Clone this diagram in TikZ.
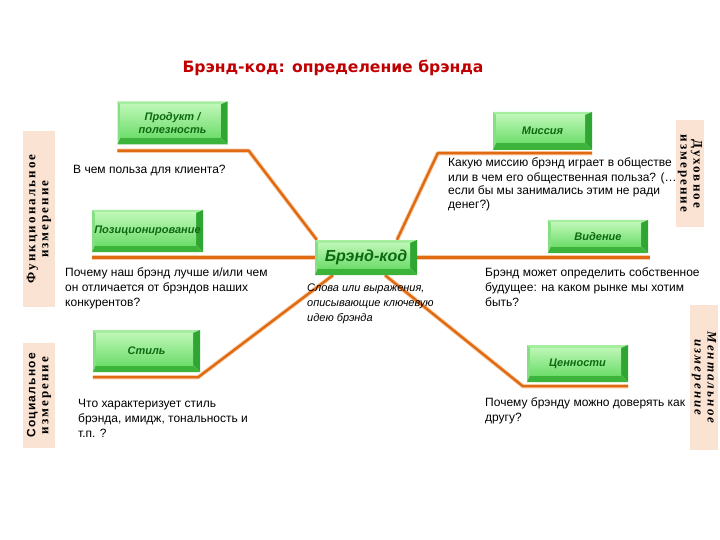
\documentclass[tikz,border=0pt]{standalone}
\usepackage{fontspec}
\setmainfont{Liberation Sans}
\newfontfamily\titlefont{DejaVu Sans}
\newfontfamily\dimfont[LetterSpace=16]{Liberation Serif}
\newfontfamily\dimsans[LetterSpace=10]{Liberation Sans}
\usetikzlibrary{calc}
\pgfdeclarelayer{backdrop}
\pgfdeclarelayer{background}
\pgfsetlayers{backdrop,background,main}
\definecolor{titlered}{HTML}{C00000}
\definecolor{boxtext}{HTML}{0E6A12}
\definecolor{gface1}{HTML}{BDF7B6}
\definecolor{gface2}{HTML}{6FDD6C}
\definecolor{gtop}{HTML}{A6EE9F}
\definecolor{gleft}{HTML}{86E083}
\definecolor{gright}{HTML}{2FA632}
\definecolor{gbot}{HTML}{3CB43C}
\definecolor{oline}{HTML}{E06A12}
\definecolor{ohalo}{HTML}{F8CBA4}
\definecolor{dimfill}{HTML}{FBE3D3}
\tikzset{
  gbox/.style={inner sep=0pt, align=center, text=boxtext,
    font=\bfseries\itshape\fontsize{11}{12.5}\selectfont,
    path picture={
      \fill[gtop] (path picture bounding box.north west) -- (path picture bounding box.north east)
        -- ([shift={(-7pt,-3pt)}]path picture bounding box.north east)
        -- ([shift={(3pt,-3pt)}]path picture bounding box.north west) -- cycle;
      \fill[gleft] (path picture bounding box.north west) -- ([shift={(3pt,-3pt)}]path picture bounding box.north west)
        -- ([shift={(3pt,7pt)}]path picture bounding box.south west) -- (path picture bounding box.south west) -- cycle;
      \fill[gright] (path picture bounding box.north east) -- (path picture bounding box.south east)
        -- ([shift={(-7pt,7pt)}]path picture bounding box.south east)
        -- ([shift={(-7pt,-3pt)}]path picture bounding box.north east) -- cycle;
      \fill[gbot] (path picture bounding box.south west) -- (path picture bounding box.south east)
        -- ([shift={(-7pt,7pt)}]path picture bounding box.south east)
        -- ([shift={(3pt,7pt)}]path picture bounding box.south west) -- cycle;
      \shade[top color=gface1, bottom color=gface2]
        ([shift={(3pt,-3pt)}]path picture bounding box.north west)
        rectangle ([shift={(-7pt,7pt)}]path picture bounding box.south east);
    }},
  txt/.style={anchor=base west, inner sep=0pt, align=left, text=black,
    font=\fontsize{12}{15}\selectfont},
  dimbox/.style={fill=dimfill, inner sep=0pt, align=center, text=black,
    font=\dimfont\bfseries\fontsize{13}{13}\selectfont},
  conn/.style={line width=4.2pt, ohalo, line join=round},
  connc/.style={line width=2.4pt, oline, line join=round}
}
\begin{document}
\begin{tikzpicture}[x=1pt,y=-1pt]
\begin{pgfonlayer}{backdrop}
\fill[white] (0,0) rectangle (720,540);
\end{pgfonlayer}
\useasboundingbox (0,0) rectangle (720,540);

% title
\node[anchor=base, inner sep=0pt, text=titlered, font=\titlefont\bfseries\fontsize{15.6}{18}\selectfont]
  (title) at (333,73) {Брэнд-код: определение брэнда};

% dimension labels
\node[dimbox, rotate=90, minimum width=176pt, minimum height=32pt] (func) at (39,219)
  {Функциональное\\измерение};
\node[dimbox, rotate=90, minimum width=105pt, minimum height=32pt] (soc) at (39,395.5)
  {{\dimsans\fontsize{12}{13}\selectfont Социальное}\\измерение};
\node[dimbox, rotate=-90, minimum width=107pt, minimum height=28pt] (spir) at (690,173.5)
  {Духовное\\измерение};
\node[dimbox, rotate=-90, minimum width=145pt, minimum height=28pt, font=\dimfont\bfseries\itshape\fontsize{13}{13}\selectfont] (ment) at (704,377.5)
  {Ментальное\\измерение};

% green boxes
\node[gbox, minimum width=110pt, minimum height=43pt] (prod) at (172.5,123) {Продукт /\\полезность};
\node[gbox, minimum width=111pt, minimum height=42pt] (pos) at (147.5,231) {Позиционирование};
\node[gbox, minimum width=99pt, minimum height=38pt] (mis) at (542.5,131) {Миссия};
\node[gbox, minimum width=100pt, minimum height=33pt] (vis) at (598,236.5) {Видение};
\node[gbox, minimum width=107pt, minimum height=42pt] (sty) at (146.5,351) {Стиль};
\node[gbox, minimum width=101pt, minimum height=37pt] (val) at (577.5,363.5) {Ценности};
\node[gbox, minimum width=102pt, minimum height=35pt, font=\bfseries\itshape\fontsize{16}{18}\selectfont] (core) at (366,257.5) {Брэнд-код};

% connectors
\begin{pgfonlayer}{background}
\foreach \s in {conn,connc}{
  \draw[\s] ([yshift=-6pt]prod.south west) -- ([shift={(21pt,-6pt)}]prod.south east) -- ([xshift=2pt]core.north west);
  \draw[\s] (core.west -| pos.west) -- (core.west);
  \draw[\s] ([yshift=-3pt]mis.south east) -- ([shift={(-55pt,-3pt)}]mis.south west) -- ([xshift=31pt]core.north);
  \draw[\s] (core.east) -- ([xshift=2pt]core.east -| vis.east);
  \draw[\s] ([yshift=-5pt]sty.south west) -- ([shift={(-2pt,-5pt)}]sty.south east) -- ([xshift=-33pt]core.south);
  \draw[\s] ([yshift=-4pt]val.south east) -- ([shift={(-4pt,-4pt)}]val.south west) -- ([xshift=19pt]core.south);
}
\end{pgfonlayer}

% texts (base anchor = baseline of last line)
\node[txt] (tprod) at (73,174) {В чем польза для клиента?};
\node[txt] (tpos) at (65,306) {Почему наш брэнд лучше и/или чем\\он отличается от брэндов наших\\конкурентов?};
\node[txt] (tsty) at (78,437) {Что характеризует стиль\\брэнда, имидж, тональность и\\т.п. ?};
\node[txt, font=\fontsize{12}{14}\selectfont] (tmis) at (448,209) {Какую миссию брэнд играет в обществе\\или в чем его общественная польза? (…\\если бы мы занимались этим не ради\\денег?)};
\node[txt] (tvis) at (485,306) {Брэнд может определить собственное\\будущее: на каком рынке мы хотим\\быть?};
\node[txt] (tval) at (485,421) {Почему брэнду можно доверять как\\другу?};
\node[txt, font=\itshape\fontsize{11}{15}\selectfont] (tcore) at (307,321) {Слова или выражения,\\описывающие ключевую\\идею брэнда};
\end{tikzpicture}
\end{document}
